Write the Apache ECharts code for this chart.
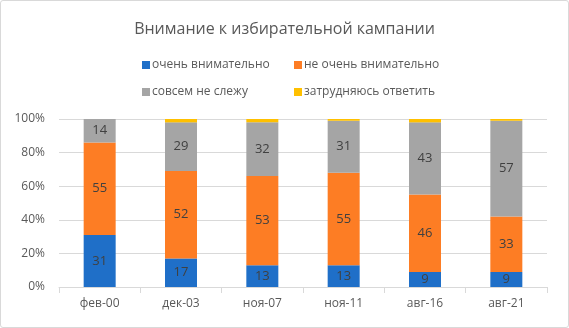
<!DOCTYPE html>
<html><head><meta charset="utf-8">
<script src="https://cdn.jsdelivr.net/npm/echarts@6/dist/echarts.min.js"></script>
<style>
html,body{margin:0;padding:0;background:#fff;}
#c{position:absolute;left:0;top:0;width:567px;height:326px;border:1px solid #d9d9d9;border-radius:3px;}
</style></head>
<body><div id="c"></div>
<script>
const categories = ['фев-00','дек-03','ноя-07','ноя-11','авг-16','авг-21'];
const veryAttentive = [31,17,13,13,9,9];
const notVeryAttentive = [55,52,53,55,46,33];
const notFollowing = [14,29,32,31,43,57];
const hardToSay = [1,2,2,1,2,1];
const yTicks = [0,20,40,60,80,100];
const seriesNames = ['очень внимательно','не очень внимательно','совсем не слежу','затрудняюсь ответить'];
const colors = ['#1f6fc8','#fd7d24','#a5a5a5','#ffc000'];

const font = "'Open Sans', 'Noto Sans', sans-serif";
const chart = echarts.init(document.getElementById('c'), null, {renderer:'canvas'});
const legendPos = [[136,53],[288,53],[136,80],[288,80]];
const mk = (name, data, i, showLabel) => ({
  name, type:'bar', stack:'total', data, barWidth:32,
  itemStyle:{color:colors[i]},
  label:{show:showLabel, position:'inside', color:'#404040', fontSize:13, fontFamily:font},
  emphasis:{disabled:true}
});
chart.setOption({
  animation:false,
  title:{text:'Внимание к избирательной кампании', left:'center', top:15,
    textStyle:{fontSize:16, fontWeight:'normal', color:'#595959', fontFamily:font}},
  legend: seriesNames.map((n,i)=>({
    data:[n], left:legendPos[i][0], top:legendPos[i][1], icon:'rect', itemWidth:8, itemHeight:8, itemGap:4,
    textStyle:{fontSize:12, color:'#595959', fontFamily:font, padding:[0,0,0,-3]}, selectedMode:false
  })),
  grid:{left:58, right:21, top:118, bottom:40},
  xAxis:{type:'category', data:categories,
    axisLine:{lineStyle:{color:'#d9d9d9'}},
    axisTick:{show:true, length:6, lineStyle:{color:'#d9d9d9'}},
    axisLabel:{color:'#595959', fontSize:12, fontFamily:font, margin:11}},
  yAxis:{type:'value', min:0, max:100, interval:20,
    axisLabel:{formatter:'{value}%', color:'#595959', fontSize:12, fontFamily:font, margin:14},
    splitLine:{lineStyle:{color:'#d9d9d9'}}},
  series:[
    mk(seriesNames[0], veryAttentive, 0, true),
    mk(seriesNames[1], notVeryAttentive, 1, true),
    mk(seriesNames[2], notFollowing, 2, true),
    mk(seriesNames[3], hardToSay, 3, false)
  ]
});
</script></body></html>
